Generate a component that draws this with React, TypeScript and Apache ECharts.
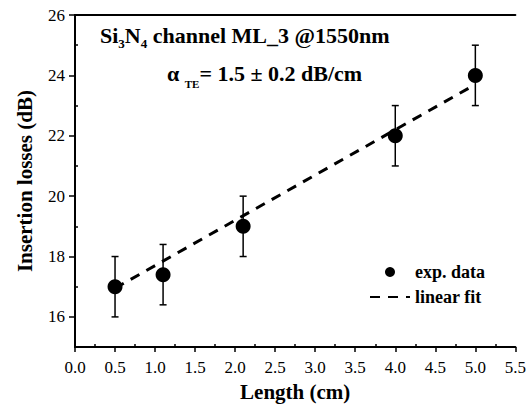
import React, { useEffect, useRef } from 'react';
import * as echarts from 'echarts';

const lengths = [0.5, 1.1, 2.1, 4.0, 5.0];
const losses = [17.0, 17.4, 19.0, 22.0, 24.0];
const errLow = [16.0, 16.4, 18.0, 21.0, 23.0];
const errHigh = [18.0, 18.4, 20.0, 23.0, 25.0];
const fitX = [0.5, 5.0];
const fitY = [16.95, 23.7];
const yMajorTicks = [16, 18, 20, 22, 24, 26];
const yMinorTicks = [17, 19, 21, 23, 25];
const xMinorTicks = [0.25, 0.75, 1.25, 1.75, 2.25, 2.75, 3.25, 3.75, 4.25, 4.75, 5.25];

const FONT = '"Liberation Serif", "Times New Roman", serif';

export default function App() {
  const ref = useRef<HTMLDivElement>(null);
  useEffect(() => {
    if (!ref.current) return;
    const chart = echarts.init(ref.current, undefined, { renderer: 'svg' });
    const axisLine = { show: true, lineStyle: { color: '#000', width: 2 } };
    const option: any = {
      animation: false,
      backgroundColor: '#fff',
      grid: { left: 75, top: 15, right: 13, bottom: 59 },
      legend: {
        data: [
          { name: 'exp. data' },
          { name: 'linear fit', itemStyle: { opacity: 0, borderWidth: 0 } },
        ],
        orient: 'vertical',
        left: 364,
        top: 258,
        itemWidth: 40,
        itemHeight: 10,
        itemGap: 7,
        textStyle: { color: '#000', fontFamily: FONT, fontWeight: 'bold', fontSize: 18, lineHeight: 18 },
      },
      graphic: [
        {
          type: 'text',
          left: 100,
          top: 24,
          style: {
            text: '{a|Si}{s|3}{a|N}{s|4}{a| channel ML_3 @1550nm}',
            rich: {
              a: { fontFamily: FONT, fontWeight: 'bold', fontSize: 22, lineHeight: 30, fill: '#000' },
              s: { fontFamily: FONT, fontWeight: 'bold', fontSize: 13, lineHeight: 14, verticalAlign: 'bottom', fill: '#000' },
            },
          },
        },
        {
          type: 'text',
          left: 167,
          top: 62,
          style: {
            text: '{a|α }{s|TE}{a|= 1.5 ± 0.2 dB/cm}',
            rich: {
              a: { fontFamily: FONT, fontWeight: 'bold', fontSize: 22, lineHeight: 32, fill: '#000' },
              s: { fontFamily: FONT, fontWeight: 'bold', fontSize: 11, lineHeight: 11, verticalAlign: 'bottom', fill: '#000' },
            },
          },
        },
      ],
      xAxis: [
        {
          type: 'value',
          min: 0,
          max: 5.5,
          interval: 0.5,
          position: 'bottom',
          axisLine,
          axisTick: { show: true, inside: false, length: 5, lineStyle: { color: '#000', width: 1.5 } },
          axisLabel: {
            color: '#000', fontFamily: FONT, fontSize: 17, margin: 12,
            formatter: (v: number) => v.toFixed(1),
          },
          splitLine: { show: false },
          name: 'Length (cm)',
          nameLocation: 'middle',
          nameGap: 33,
          nameTextStyle: { color: '#000', fontFamily: FONT, fontWeight: 'bold', fontSize: 21 },
        },
        {
          type: 'value',
          min: 0,
          max: 5.5,
          position: 'bottom',
          axisLine: { show: false },
          axisTick: { show: true, inside: true, length: 3, customValues: xMinorTicks, lineStyle: { color: '#000', width: 1.5 } },
          axisLabel: { show: false },
          splitLine: { show: false },
        },
        {
          type: 'value',
          min: 0,
          max: 5.5,
          position: 'top',
          axisLine,
          axisTick: { show: false },
          axisLabel: { show: false },
          splitLine: { show: false },
        },
      ],
      yAxis: [
        {
          type: 'value',
          min: 15,
          max: 26,
          position: 'left',
          axisLine,
          axisTick: { show: true, inside: false, length: 6, customValues: yMajorTicks, lineStyle: { color: '#000', width: 1.5 } },
          axisLabel: { color: '#000', fontFamily: FONT, fontSize: 17, margin: 10, customValues: yMajorTicks },
          splitLine: { show: false },
          name: 'Insertion losses (dB)',
          nameLocation: 'middle',
          nameGap: 40,
          nameTextStyle: { color: '#000', fontFamily: FONT, fontWeight: 'bold', fontSize: 21 },
        },
        {
          type: 'value',
          min: 15,
          max: 26,
          position: 'left',
          axisLine: { show: false },
          axisTick: { show: true, inside: true, length: 3, customValues: yMinorTicks, lineStyle: { color: '#000', width: 1.5 } },
          axisLabel: { show: false },
          splitLine: { show: false },
        },
        {
          type: 'value',
          min: 15,
          max: 26,
          position: 'right',
          axisLine,
          axisTick: { show: false },
          axisLabel: { show: false },
          splitLine: { show: false },
        },
      ],
      series: [
        {
          name: 'linear fit',
          type: 'line',
          xAxisIndex: 0,
          yAxisIndex: 0,
          data: fitX.map((x, i) => [x, fitY[i]]),
          symbol: 'none',
          lineStyle: { color: '#000', width: 3, type: [10, 8] },
          itemStyle: { color: '#000' },
          z: 2,
        },
        {
          name: 'error',
          type: 'custom',
          xAxisIndex: 0,
          yAxisIndex: 0,
          data: lengths.map((x, i) => [x, errLow[i], errHigh[i]]),
          encode: { x: 0, y: [1, 2] },
          renderItem: (params: any, api: any) => {
            const x = api.value(0);
            const lo = api.coord([x, api.value(1)]);
            const hi = api.coord([x, api.value(2)]);
            const w = 3.5;
            const st = { stroke: '#000', lineWidth: 1.5 };
            return {
              type: 'group',
              children: [
                { type: 'line', shape: { x1: lo[0], y1: lo[1], x2: hi[0], y2: hi[1] }, style: st },
                { type: 'line', shape: { x1: lo[0] - w, y1: lo[1], x2: lo[0] + w, y2: lo[1] }, style: st },
                { type: 'line', shape: { x1: hi[0] - w, y1: hi[1], x2: hi[0] + w, y2: hi[1] }, style: st },
              ],
            };
          },
          z: 3,
        },
        {
          name: 'exp. data',
          type: 'scatter',
          xAxisIndex: 0,
          yAxisIndex: 0,
          data: lengths.map((x, i) => [x, losses[i]]),
          symbol: 'circle',
          symbolSize: 15,
          itemStyle: { color: '#000', opacity: 1 },
          z: 4,
        },
      ],
    };
    chart.setOption(option);
    return () => chart.dispose();
  }, []);
  return <div ref={ref} style={{ width: 529, height: 407, position: 'absolute', left: 0, top: 0 }} />;
}
